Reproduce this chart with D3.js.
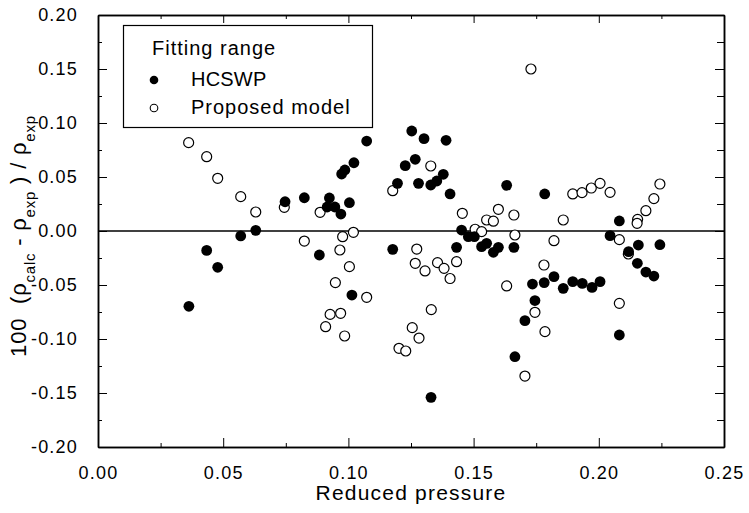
<!doctype html>
<html lang="en">
<head>
  <meta charset="utf-8">
  <title>Relative density deviation</title>
  <style>
    * { margin: 0; padding: 0; box-sizing: border-box; }
    body { background: #fff; }
    svg text { font-family: "Liberation Sans", Arial, sans-serif; fill: #000; }
  </style>
</head>
<body>
  <div id="chart"></div>
  <script src="https://cdn.jsdelivr.net/npm/d3@7/dist/d3.min.js"></script>
  <script>
    // [reduced pressure, deviation]
    const hcswp = [
      [0.0363,-0.0697],[0.0434,-0.018],[0.0478,-0.0336],[0.057,-0.0046],[0.063,0.0006],
      [0.0747,0.0271],[0.0824,0.0308],[0.0884,-0.0222],[0.0924,0.0306],[0.0915,0.0222],
      [0.0946,0.0222],[0.097,0.0157],[0.1004,0.0262],[0.0973,0.0528],[0.0986,0.0565],
      [0.1022,0.0632],[0.1073,0.0833],[0.1014,-0.0593],[0.1177,-0.017],[0.1196,0.0441],
      [0.1253,0.0926],[0.1302,0.0855],[0.139,0.084],[0.1227,0.0605],[0.1267,0.0664],
      [0.128,0.0441],[0.1329,0.0426],[0.1353,0.0463],[0.1379,0.0525],[0.1406,0.0343],
      [0.1632,0.0423],[0.1784,0.0343],[0.1452,0.0009],[0.1479,-0.0053],[0.1503,-0.0053],
      [0.1432,-0.0151],[0.1532,-0.0145],[0.1552,-0.0114],[0.1579,-0.0197],[0.1599,-0.0151],
      [0.1661,-0.0151],[0.1735,-0.0491],[0.1782,-0.0478],[0.1821,-0.0423],[0.1858,-0.0531],
      [0.1896,-0.0469],[0.1934,-0.0485],[0.1973,-0.0522],[0.2005,-0.0469],[0.1745,-0.0644],
      [0.1705,-0.083],[0.1665,-0.1164],[0.133,-0.154],[0.2082,0.0093],[0.2045,-0.0043],
      [0.2119,-0.0191],[0.2158,-0.013],[0.2244,-0.0127],[0.2154,-0.0299],[0.2188,-0.038],
      [0.222,-0.0417],[0.2082,-0.0963]
    ];
    const proposed = [
      [0.0362,0.0818],[0.0434,0.0688],[0.0478,0.0488],[0.057,0.0318],[0.063,0.0176],
      [0.0744,0.0219],[0.0824,-0.0093],[0.0887,0.0173],[0.0977,-0.0053],[0.102,-0.0012],
      [0.0966,-0.0176],[0.1004,-0.033],[0.0948,-0.0478],[0.1073,-0.0614],[0.0927,-0.0772],
      [0.0969,-0.0762],[0.0909,-0.0886],[0.0985,-0.0972],[0.1177,0.0373],[0.1329,0.0602],
      [0.1273,-0.0167],[0.1267,-0.0299],[0.1306,-0.037],[0.1356,-0.0293],[0.1382,-0.0346],
      [0.1406,-0.044],[0.1432,-0.0284],[0.1331,-0.0728],[0.1255,-0.0895],[0.1282,-0.0991],
      [0.1202,-0.1086],[0.1229,-0.1111],[0.1455,0.0164],[0.1599,0.0201],[0.1661,0.0148],
      [0.1552,0.0102],[0.1579,0.0091],[0.1506,0.0016],[0.1532,-0.0006],[0.1665,-0.0037],
      [0.1858,0.0102],[0.1821,-0.009],[0.1781,-0.0315],[0.1632,-0.0509],[0.1745,-0.0753],
      [0.1785,-0.0932],[0.1705,-0.1343],[0.1729,0.15],[0.1896,0.0343],[0.1933,0.0355],
      [0.197,0.0398],[0.2005,0.0441],[0.2045,0.0358],[0.2244,0.0435],[0.222,0.03],
      [0.2188,0.0188],[0.2155,0.0108],[0.2153,0.0071],[0.2082,-0.008],[0.2118,-0.0213],
      [0.2082,-0.067]
    ];
    const xTicks = [0, 0.05, 0.10, 0.15, 0.20, 0.25];
    const yTicks = [-0.20, -0.15, -0.10, -0.05, 0.00, 0.05, 0.10, 0.15, 0.20];
    const legendTitle = 'Fitting range';
    const legendNames = ['HCSWP', 'Proposed model'];

    const W = 749, H = 513;
    const m = {l: 98, r: 25, t: 15, b: 66};
    const iw = W - m.l - m.r, ih = H - m.t - m.b;

    const x = d3.scaleLinear().domain([0, 0.25]).range([0, iw]);
    const y = d3.scaleLinear().domain([-0.2, 0.2]).range([ih, 0]);

    const svg = d3.select('#chart').append('svg')
      .attr('width', W).attr('height', H);
    const g = svg.append('g').attr('transform', `translate(${m.l},${m.t})`);

    const xMinor = d3.range(0.025, 0.25, 0.05);
    const yMinor = d3.range(-0.175, 0.2, 0.05);
    const fmt = d3.formatLocale({decimal: '.', thousands: ',', grouping: [3], currency: ['', ''], minus: '-'}).format('.2f');

    // bottom axis with labels
    g.append('g').attr('transform', `translate(0,${ih})`)
      .call(d3.axisBottom(x).tickValues(xTicks).tickFormat(fmt).tickSizeInner(-9).tickSizeOuter(0).tickPadding(19));
    g.append('g').attr('transform', `translate(0,${ih})`)
      .call(d3.axisBottom(x).tickValues(xMinor).tickFormat('').tickSizeInner(-4).tickSizeOuter(0));
    // top axis
    g.append('g').call(d3.axisTop(x).tickValues(xTicks).tickFormat('').tickSizeInner(-8).tickSizeOuter(0));
    g.append('g').call(d3.axisTop(x).tickValues(xMinor).tickFormat('').tickSizeInner(-4).tickSizeOuter(0));
    // left axis with labels
    g.append('g')
      .call(d3.axisLeft(y).tickValues(yTicks).tickFormat(fmt).tickSizeInner(-9).tickSizeOuter(0).tickPadding(20));
    g.append('g').call(d3.axisLeft(y).tickValues(yMinor).tickFormat('').tickSizeInner(-4).tickSizeOuter(0));
    // right axis
    g.append('g').attr('transform', `translate(${iw},0)`)
      .call(d3.axisRight(y).tickValues(yTicks).tickFormat('').tickSizeInner(-9).tickSizeOuter(0));
    g.append('g').attr('transform', `translate(${iw},0)`)
      .call(d3.axisRight(y).tickValues(yMinor).tickFormat('').tickSizeInner(-7).tickSizeOuter(0));

    g.selectAll('.domain').attr('stroke', '#000').attr('stroke-width', 1.5);
    g.selectAll('.tick line').attr('stroke', '#000').attr('stroke-width', 1);
    g.selectAll('.tick text')
      .style('font-family', '"Liberation Sans", Arial, sans-serif')
      .style('font-size', '18px').attr('letter-spacing', 1.2).attr('fill', '#000');

    // zero line
    g.append('line')
      .attr('x1', 0).attr('x2', iw)
      .attr('y1', y(0)).attr('y2', y(0))
      .attr('stroke', '#000').attr('stroke-width', 1.6);

    // points
    g.append('g').selectAll('circle').data(proposed).join('circle')
      .attr('cx', d => x(d[0])).attr('cy', d => y(d[1])).attr('r', 5)
      .attr('fill', '#fff').attr('stroke', '#000').attr('stroke-width', 1.2);
    g.append('g').selectAll('circle').data(hcswp).join('circle')
      .attr('cx', d => x(d[0])).attr('cy', d => y(d[1])).attr('r', 5.4)
      .attr('fill', '#000');

    // legend
    const lg = svg.append('g');
    lg.append('rect').attr('x', 123.5).attr('y', 25.5).attr('width', 249).attr('height', 102)
      .attr('fill', '#fff').attr('stroke', '#000').attr('stroke-width', 1.2);
    lg.append('text').attr('x', 152).attr('y', 55).attr('font-size', 20).attr('letter-spacing', 1).text(legendTitle);
    lg.append('circle').attr('cx', 154).attr('cy', 80).attr('r', 4.3).attr('fill', '#000');
    lg.append('circle').attr('cx', 154).attr('cy', 108).attr('r', 3.8)
      .attr('fill', '#fff').attr('stroke', '#000').attr('stroke-width', 1.1);
    lg.append('text').attr('x', 191).attr('y', 86).attr('font-size', 20).attr('letter-spacing', 0.2).text(legendNames[0]);
    lg.append('text').attr('x', 191).attr('y', 114).attr('font-size', 20).attr('letter-spacing', 1).text(legendNames[1]);

    // axis titles
    svg.append('text').attr('x', m.l + iw / 2).attr('y', 500)
      .attr('text-anchor', 'middle').attr('font-size', 21).attr('letter-spacing', 1.2)
      .text('Reduced pressure');

    const yt = svg.append('text')
      .attr('transform', `translate(26,${m.t + ih / 2 + 5}) rotate(-90)`)
      .attr('text-anchor', 'middle').attr('font-size', 22).attr('letter-spacing', 0.8)
      .attr('xml:space', 'preserve');
    yt.append('tspan').text('100  (\u03C1');
    yt.append('tspan').attr('baseline-shift', 'sub').attr('font-size', 15).text('calc');
    yt.append('tspan').text(' - \u03C1');
    yt.append('tspan').attr('baseline-shift', 'sub').attr('font-size', 15).text('exp');
    yt.append('tspan').text(' ) / \u03C1');
    yt.append('tspan').attr('baseline-shift', 'sub').attr('font-size', 15).text('exp');
  </script>
</body>
</html>
